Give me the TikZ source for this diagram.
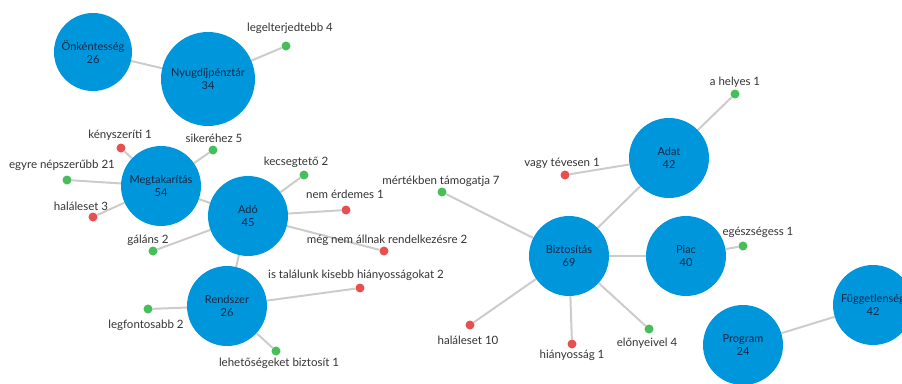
\documentclass[tikz,border=0pt]{standalone}
\usepackage{fontspec}
\setmainfont{Lato}
\usetikzlibrary{backgrounds}
\definecolor{bubble}{RGB}{0,150,219}
\definecolor{pos}{RGB}{70,190,90}
\definecolor{neg}{RGB}{230,80,80}
\definecolor{link}{RGB}{204,204,204}
\definecolor{ink}{RGB}{51,51,51}
\definecolor{bink}{RGB}{20,40,70}
\tikzset{
  topic/.style={circle, fill=bubble, draw=none, minimum size=80pt, inner sep=0pt,
    align=center, text=bink, font=\fontsize{11}{13}\selectfont},
  posdot/.style={circle, fill=pos, draw=none, minimum size=9pt, inner sep=0pt},
  negdot/.style={circle, fill=neg, draw=none, minimum size=9pt, inner sep=0pt},
  word/.style={text=ink, font=\fontsize{11.5}{13}\selectfont, inner sep=0pt},
  edge/.style={draw=link, line width=2pt}
}
\begin{document}
\begin{tikzpicture}[x=1pt,y=-1pt]
\useasboundingbox (0,0) rectangle (902,383);
% topic bubbles
\node[topic, minimum size=78pt] (onk) at (93,52) {Önkéntesség\\26};
\node[topic, minimum size=94pt] (nyu) at (208,79) {Nyugdíjpénztár\\34};
\node[topic] (meg) at (161,186) {Megtakarítás\\54};
\node[topic] (ado) at (248,216) {Adó\\45};
\node[topic] (ren) at (227,306) {Rendszer\\26};
\node[topic] (biz) at (569,256) {Biztosítás\\69};
\node[topic] (adat) at (669,158) {Adat\\42};
\node[topic] (piac) at (686,256) {Piac\\40};
\node[topic] (prog) at (743,345) {Program\\24};
\node[topic] (fug) at (873,305) {Függetlenség\\42};
% term dots
\node[posdot] (d1) at (286,46) {};
\node[negdot] (d2) at (121,148) {};
\node[posdot] (d3) at (213,150) {};
\node[posdot] (d4) at (67,180) {};
\node[negdot] (d5) at (93,217) {};
\node[posdot] (d6) at (153,251) {};
\node[posdot] (d7) at (304,175) {};
\node[negdot] (d8) at (346,210) {};
\node[negdot] (d9) at (384,251) {};
\node[negdot] (d10) at (360,288) {};
\node[posdot] (d11) at (148,309) {};
\node[posdot] (d12) at (276,351) {};
\node[posdot] (d13) at (442,192) {};
\node[negdot] (d14) at (565,175) {};
\node[posdot] (d15) at (735,94) {};
\node[posdot] (d16) at (743,246) {};
\node[negdot] (d17) at (470,325) {};
\node[negdot] (d18) at (572,344) {};
\node[posdot] (d19) at (649,329) {};
% term labels
\node[word] (t1) at (290,28) {legelterjedtebb 4};
\node[word] (t2) at (120,135) {kényszeríti 1};
\node[word] (t3) at (214,138) {sikeréhez 5};
\node[word] (t4) at (62,165) {egyre népszerűbb 21};
\node[word] (t5) at (81,206) {haláleset 3};
\node[word] (t6) at (148,240) {gáláns 2};
\node[word] (t7) at (296,162) {kecsegtető 2};
\node[word] (t8) at (345,194) {nem érdemes 1};
\node[word] (t9) at (387,240) {még nem állnak rendelkezésre 2};
\node[word] (t10) at (356,275) {is találunk kisebb hiányosságokat 2};
\node[word] (t11) at (146,325) {legfontosabb 2};
\node[word] (t12) at (279,363) {lehetőségeket biztosít 1};
\node[word] (t13) at (441,181) {mértékben támogatja 7};
\node[word] (t14) at (562,163) {vagy tévesen 1};
\node[word] (t15) at (735,82) {a helyes 1};
\node[word] (t16) at (758,232) {egészségess 1};
\node[word] (t17) at (468,340) {haláleset 10};
\node[word] (t18) at (572,355) {hiányosság 1};
\node[word] (t19) at (647,343) {előnyeivel 4};
% links
\begin{scope}[on background layer]
\draw[edge] (onk) -- (nyu);
\draw[edge] (nyu) -- (d1);
\draw[edge] (meg) -- (d2);
\draw[edge] (meg) -- (d3);
\draw[edge] (meg) -- (d4);
\draw[edge] (meg) -- (d5);
\draw[edge] (meg) -- (ado);
\draw[edge] (ado) -- (d6);
\draw[edge] (ado) -- (d7);
\draw[edge] (ado) -- (d8);
\draw[edge] (ado) -- (d9);
\draw[edge] (ado) -- (ren);
\draw[edge] (ren) -- (d10);
\draw[edge] (ren) -- (d11);
\draw[edge] (ren) -- (d12);
\draw[edge] (biz) -- (d13);
\draw[edge] (biz) -- (adat);
\draw[edge] (biz) -- (piac);
\draw[edge] (biz) -- (d17);
\draw[edge] (biz) -- (d18);
\draw[edge] (biz) -- (d19);
\draw[edge] (adat) -- (d14);
\draw[edge] (adat) -- (d15);
\draw[edge] (piac) -- (d16);
\draw[edge] (prog) -- (fug);
\end{scope}
\end{tikzpicture}
\end{document}
